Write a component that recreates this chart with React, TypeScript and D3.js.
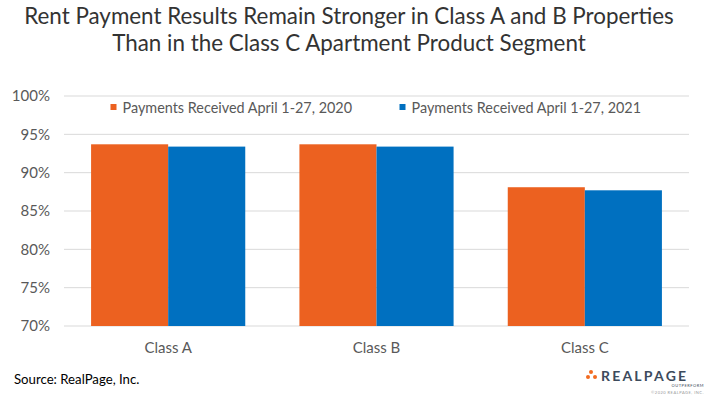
import React from 'react';
import * as d3 from 'd3';

// values
const categories = ['Class A', 'Class B', 'Class C'];
const payments2020 = [93.7, 93.7, 88.1];
const payments2021 = [93.4, 93.4, 87.7];
const seriesNames = ['Payments Received April 1-27, 2020', 'Payments Received April 1-27, 2021'];
const yTicks = [70, 75, 80, 85, 90, 95, 100];

const colors = ['#EC6120', '#0070C0'];
const font = 'Lato, "Open Sans", sans-serif';

const App = () => {
  const width = 719;
  const height = 399;
  const margin = { top: 96, right: 30, bottom: 73, left: 64 };

  const x = d3
    .scaleBand()
    .domain(categories)
    .range([margin.left, width - margin.right])
    .paddingInner(0.26)
    .paddingOuter(0.13);

  const sub = d3
    .scaleBand()
    .domain(['0', '1'])
    .range([0, x.bandwidth()]);

  const y = d3
    .scaleLinear()
    .domain([70, 100])
    .range([height - margin.bottom, margin.top]);

  const series = [payments2020, payments2021];

  return (
    <svg width={width} height={height} style={{ display: 'block', position: 'absolute', left: 0, top: 0 }}>
      <rect width={width} height={height} fill="#fff" />
      <text x={349} y={24} textAnchor="middle" fontFamily={font} fontSize={22.4} fill="#333">
        Rent Payment Results Remain Stronger in Class A and B Properties
      </text>
      <text x={349} y={51} textAnchor="middle" fontFamily={font} fontSize={22.4} fill="#333">
        Than in the Class C Apartment Product Segment
      </text>

      {yTicks.map((t) => (
        <g key={t}>
          <line x1={margin.left} x2={width - margin.right} y1={y(t)} y2={y(t)} stroke="#D9D9D9" strokeWidth={1} />
          <text x={50} y={y(t)} dy="0.35em" textAnchor="end" fontFamily={font} fontSize={15} fill="#595959">
            {t}%
          </text>
        </g>
      ))}

      {series.map((vals, s) =>
        vals.map((v, i) => (
          <rect
            key={s + '-' + i}
            x={x(categories[i])! + sub(String(s))!}
            y={y(v)}
            width={sub.bandwidth()}
            height={y(70) - y(v)}
            fill={colors[s]}
          />
        ))
      )}

      {categories.map((c) => (
        <text key={c} x={x(c)! + x.bandwidth() / 2} y={353} textAnchor="middle" fontFamily={font} fontSize={15} fill="#595959">
          {c}
        </text>
      ))}

      {seriesNames.map((n, i) => (
        <g key={n} transform={`translate(${i === 0 ? 110.5 : 399.5},104)`}>
          <rect width={6} height={6} fill={colors[i]} />
          <text x={12} y={9} fontFamily={font} fontSize={14.4} fill="#595959">
            {n}
          </text>
        </g>
      ))}

      <text x={14} y={384} fontFamily={font} fontSize={13.2} fill="#000">
        Source: RealPage, Inc.
      </text>

      {/* logo */}
      <g>
        <circle cx={591} cy={372} r={2} fill="#F26B21" />
        <circle cx={588} cy={377} r={2} fill="#F26B21" />
        <circle cx={595} cy={377} r={2} fill="#F26B21" />
        <text x={601} y={381} fontFamily={font} fontWeight={700} fontSize={14} letterSpacing={2.2} fill="#3D4B5C">
          REALPAGE
        </text>
        <text x={704} y={387} textAnchor="end" fontFamily={font} fontSize={4} letterSpacing={0.5} fill="#3D4B5C">
          OUTPERFORM
        </text>
        <text x={704} y={394} textAnchor="end" fontFamily={font} fontSize={4} letterSpacing={0.5} fill="#999">
          ©2020 REALPAGE, INC.
        </text>
      </g>
    </svg>
  );
};

export default App;
